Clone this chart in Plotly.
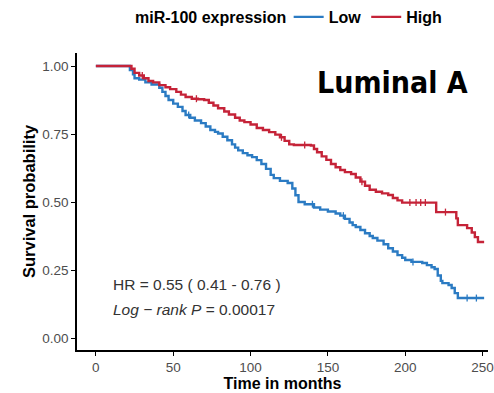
import plotly.graph_objects as go
import numpy as np

# Kaplan-Meier step data
low_time = [0, 20, 22, 24, 25, 28, 32, 36, 41, 43, 45, 47, 50, 53, 56, 58, 61, 64, 68, 71,
            74, 77, 79, 82, 85, 88, 90, 92, 95, 98, 101, 104, 107, 110, 113, 115, 119, 124,
            127, 129, 131, 135, 141, 145, 150, 155, 158, 161, 164, 166, 168, 171, 174, 177,
            179, 182, 186, 189, 192, 195, 198, 200, 204, 211, 214, 217, 219, 221, 223, 224,
            228, 230, 232, 234, 251]
low_surv = [1.0, 1.0, 0.985, 0.97, 0.955, 0.95, 0.94, 0.932, 0.92, 0.905, 0.89, 0.875, 0.862,
            0.85, 0.835, 0.82, 0.81, 0.80, 0.79, 0.778, 0.765, 0.758, 0.752, 0.74, 0.727, 0.712,
            0.70, 0.69, 0.68, 0.672, 0.665, 0.654, 0.64, 0.622, 0.60, 0.588, 0.578, 0.57, 0.55,
            0.525, 0.50, 0.492, 0.48, 0.472, 0.465, 0.458, 0.45, 0.438, 0.425, 0.415, 0.408,
            0.397, 0.385, 0.375, 0.368, 0.358, 0.345, 0.33, 0.318, 0.305, 0.295, 0.287, 0.28,
            0.276, 0.268, 0.26, 0.254, 0.23, 0.21, 0.202, 0.195, 0.184, 0.165, 0.147, 0.147]

high_time = [0, 20, 23, 25, 28, 31, 34, 37, 41, 45, 48, 52, 55, 58, 62, 66, 70, 73, 76, 79,
             83, 86, 90, 93, 96, 100, 104, 108, 112, 116, 119, 122, 125, 128, 139, 141, 143,
             146, 149, 152, 155, 158, 161, 165, 168, 171, 174, 177, 181, 185, 189, 192, 195,
             198, 220, 233, 234, 240, 243, 245, 247, 251]
high_surv = [1.0, 1.0, 0.99, 0.975, 0.965, 0.955, 0.945, 0.94, 0.93, 0.922, 0.915, 0.905, 0.895,
             0.886, 0.88, 0.878, 0.875, 0.865, 0.855, 0.845, 0.833, 0.822, 0.81, 0.80, 0.794,
             0.785, 0.772, 0.765, 0.757, 0.748, 0.738, 0.725, 0.712, 0.71, 0.708, 0.695, 0.683,
             0.668, 0.655, 0.64, 0.628, 0.618, 0.61, 0.603, 0.59, 0.575, 0.56, 0.545, 0.538,
             0.532, 0.526, 0.515, 0.506, 0.498, 0.463, 0.44, 0.415, 0.404, 0.388, 0.371,
             0.353, 0.353]

low_censor = [60, 140, 160, 205, 240, 246]
high_censor = [30, 65, 120, 135, 172, 203, 207, 210, 213, 226]

x_ticks = [0, 50, 100, 150, 200, 250]
y_ticks = [0.0, 0.25, 0.5, 0.75, 1.0]

BLUE = "#2b7bc3"
RED = "#c52338"
ARIAL = "Liberation Sans, Arial, sans-serif"


def step_at(times, surv, t):
    idx = np.searchsorted(np.asarray(times), t, side="right") - 1
    return [surv[i] for i in idx]


fig = go.Figure()
for name, t, s, c, col in [("Low", low_time, low_surv, low_censor, BLUE),
                           ("High", high_time, high_surv, high_censor, RED)]:
    fig.add_trace(go.Scatter(x=t, y=s, mode="lines", line_shape="hv", name=f"<b>{name}</b>",
                             line=dict(color=col, width=2.4)))
    fig.add_trace(go.Scatter(x=c, y=step_at(t, s, c), mode="markers", showlegend=False,
                             marker=dict(symbol="line-ns", size=5,
                                         line=dict(color=col, width=1.3))))

axis_common = dict(showgrid=False, zeroline=False, showline=True, linecolor="black",
                   linewidth=1.5, ticks="outside", ticklen=4, tickwidth=1.2,
                   tickcolor="black", ticklabeloverflow="allow",
                   tickfont=dict(family=ARIAL, size=13.5, color="#4d4d4d"))

fig.update_xaxes(range=[-12.2, 253.5], tickvals=x_ticks,
                 title=dict(text="<b>Time in months</b>", standoff=2,
                            font=dict(family=ARIAL, size=16, color="black")),
                 **axis_common)
fig.update_yaxes(range=[-0.044, 1.048], tickvals=y_ticks, tickformat=".2f",
                 title=dict(text="<b>Survival probability</b>", standoff=2,
                            font=dict(family=ARIAL, size=16.5, color="black")),
                 **axis_common)

fig.add_annotation(xref="paper", yref="paper", x=0.578, y=0.90, xanchor="left",
                   yanchor="middle", showarrow=False, text="<b>Luminal A</b>",
                   font=dict(family="Liberation Sans Narrow, DejaVu Sans Condensed, Open Sans",
                             size=30, color="black"))
fig.add_annotation(xref="paper", yref="paper", x=0.083, y=0.222, xanchor="left",
                   yanchor="middle", showarrow=False,
                   text="HR = 0.55 ( 0.41 - 0.76 )",
                   font=dict(family=ARIAL, size=15.5, color="#333333"))
fig.add_annotation(xref="paper", yref="paper", x=0.083, y=0.138, xanchor="left",
                   yanchor="middle", showarrow=False,
                   text="<i>Log − rank P</i> = 0.00017",
                   font=dict(family=ARIAL, size=15.5, color="#333333"))
# legend title
fig.add_annotation(xref="paper", yref="paper", x=0.513, y=1.118, xanchor="right",
                   yanchor="middle", showarrow=False, text="<b>miR-100 expression</b>",
                   font=dict(family=ARIAL, size=16, color="black"))

fig.update_layout(
    width=494, height=393,
    margin=dict(l=77, r=0, t=53, b=43),
    paper_bgcolor="white", plot_bgcolor="white",
    legend=dict(orientation="h", x=0.515, xanchor="left", y=1.0, yanchor="top",
                yref="container", font=dict(family=ARIAL, size=16, color="black"),
                itemwidth=30, tracegroupgap=0),
)

fig.write_html("out.html")
